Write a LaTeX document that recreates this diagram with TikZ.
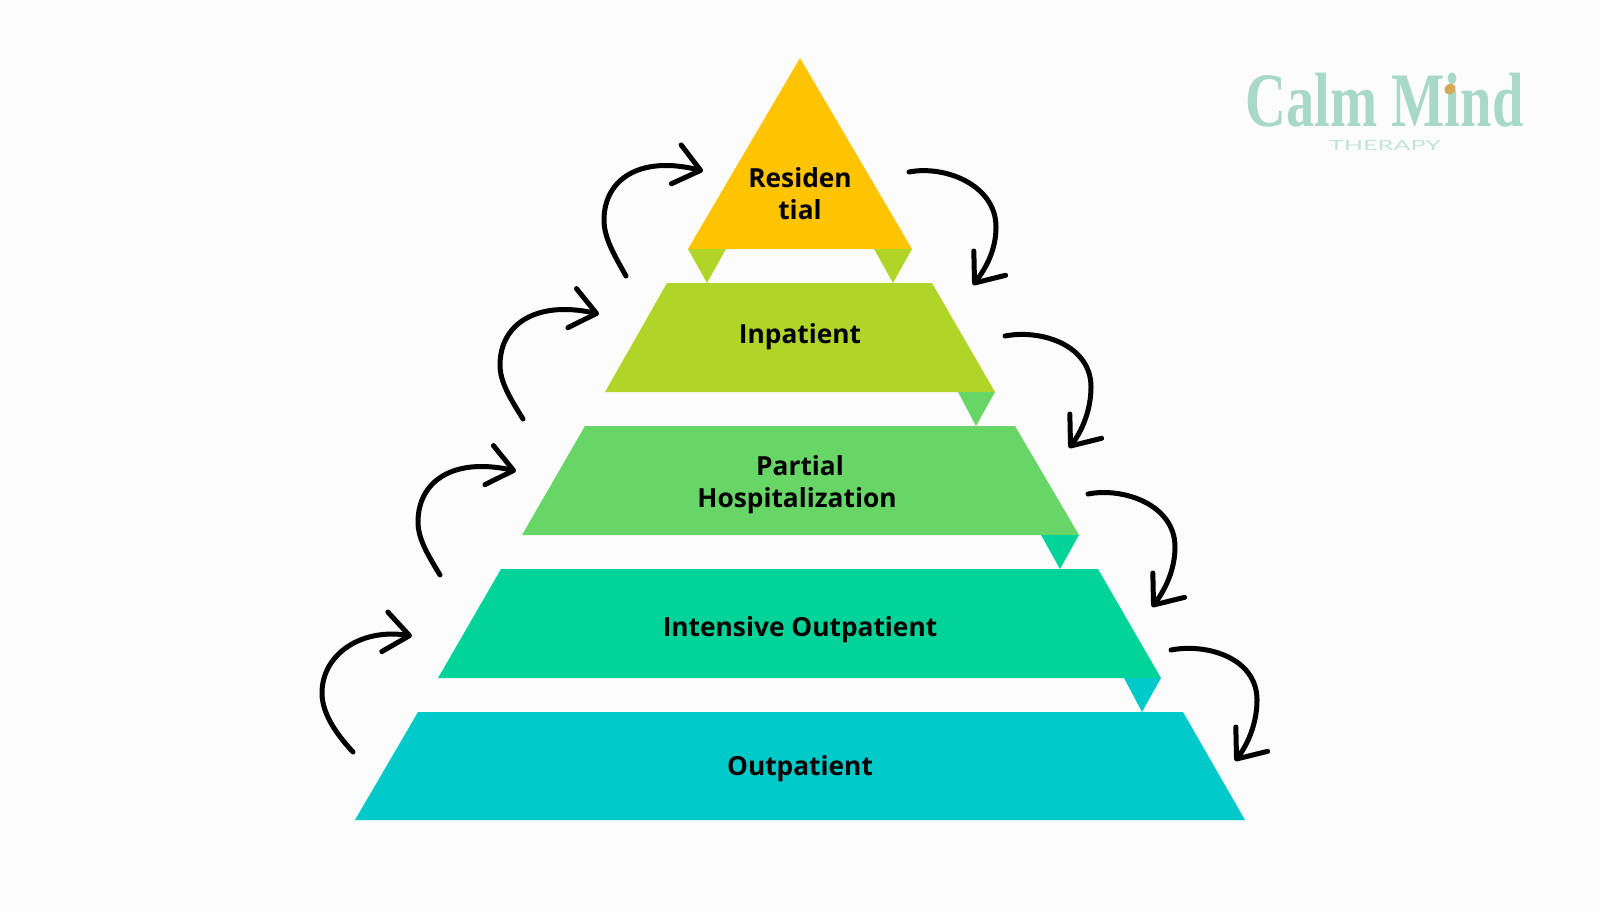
\documentclass[tikz,border=0pt]{standalone}
\usepackage{fontspec}
\usepackage{tikz}
\usetikzlibrary{arrows.meta}
\setmainfont{Open Sans}
\newfontfamily\logofont{Liberation Serif}
\newfontfamily\subfont{Lato}
\definecolor{resi}{HTML}{FFC400}
\definecolor{inpa}{HTML}{B1D429}
\definecolor{part}{HTML}{68D666}
\definecolor{inte}{HTML}{01D399}
\definecolor{outp}{HTML}{00C9C9}
\definecolor{logo}{HTML}{A8D9C8}

\begin{document}
\begin{tikzpicture}[x=1pt,y=-1pt,
		tier/.style={inner sep=0pt,align=center,text=black,font=\fontsize{26.3}{32}\selectfont\bfseries},
		curvearrow/.style={line width=5pt,line cap=round,line join=round,-{Straight Barb[length=25pt,width=40pt,round]}}]
		
		\fill[white!99!black] (0,0) rectangle (1600,912);
		\useasboundingbox (0,0) rectangle (1600,912);
		
		% pyramid
		\fill[resi] (800,58) -- (912,249) -- (688,249) -- cycle;
		\fill[inpa] (667,283) -- (932,283) -- (995,392) -- (605,392) -- cycle;
		\fill[part] (585,426) -- (1015,426) -- (1079,535) -- (522,535) -- cycle;
		\fill[inte] (501,569) -- (1098,569) -- (1161,678) -- (438,678) -- cycle;
		\fill[outp] (418,712) -- (1183,712) -- (1245,820) -- (355,820) -- cycle;
		
		\node[tier](residential) at (800,194){Residen\\tial};
		\node[tier,anchor=base](inpatient) at (800,343){Inpatient};
		\node[tier](partial) at (800,485){Partial\\Hospitalization\kern6pt};
		\node[tier,anchor=base](intensive) at (800,636){Intensive Outpatient};
		\node[tier,anchor=base](outpatient) at (800,775){Outpatient};
		
		% small triangles
		\fill[inpa] (688,249) -- (726,249) -- (707,283) -- cycle;
		\fill[inpa] (874,249) -- (912,249) -- (893,283) -- cycle;
		\fill[part] (958,392) -- (995,392) -- (976,426) -- cycle;
		\fill[inte] (1041,535) -- (1079,535) -- (1060,569) -- cycle;
		\fill[outp] (1124,678) -- (1161,678) -- (1142,712) -- cycle;
		
		% ends of the curves
		\coordinate (upa) at (353,752);  \coordinate (upb) at (412,636);
		\coordinate (upc) at (440,575);  \coordinate (upd) at (516,471);
		\coordinate (upe) at (523,419);  \coordinate (upf) at (599,314);
		\coordinate (upg) at (626,276);  \coordinate (uph) at (703,171);
		\coordinate (downa) at (909,172);  \coordinate (downb) at (973,285);
		\coordinate (downc) at (1005,336); \coordinate (downd) at (1069,448);
		\coordinate (downe) at (1088,494); \coordinate (downf) at (1152,607);
		\coordinate (downg) at (1171,650); \coordinate (downh) at (1235,761);
		
		\draw[curvearrow] (upa) .. controls (340,738) and (322,716) .. (322,693) .. controls (322,655) and (360,628) .. (upb);
		\draw[curvearrow] (upc) .. controls (428,555) and (418,539) .. (418,522) .. controls (418,482) and (452,457) .. (upd);
		\draw[curvearrow] (upe) .. controls (510,398) and (500,382) .. (500,365) .. controls (500,325) and (535,300) .. (upf);
		\draw[curvearrow] (upg) .. controls (613,253) and (604,237) .. (604,220) .. controls (604,180) and (639,155) .. (uph);
		
		\draw[curvearrow] (downa) .. controls (945,165) and (996,185) .. (996,227) .. controls (996,250) and (986,268) .. (downb);
		\draw[curvearrow] (downc) .. controls (1041,329) and (1091,345) .. (1091,387) .. controls (1091,410) and (1082,431) .. (downd);
		\draw[curvearrow] (downe) .. controls (1124,487) and (1175,505) .. (1175,547) .. controls (1175,570) and (1165,590) .. (downf);
		\draw[curvearrow] (downg) .. controls (1207,643) and (1257,658) .. (1257,700) .. controls (1257,723) and (1248,744) .. (downh);
		
		% logo
		\node[text=logo,inner sep=0pt,anchor=base,font=\logofont\fontsize{77}{77}\selectfont\bfseries](calm) at (1384.5,127){\scalebox{0.735}[1]{Calm Mind}};
		\fill[rotate around={30:(1450,89)},orange!55!logo] (1450,89) ellipse (6pt and 5pt);
		\node[text=logo!70!white,inner sep=0pt,anchor=base,font=\subfont\fontsize{14}{14}\selectfont](therapy) at (1385,151){\scalebox{1.8}[1]{THERAPY}};
		
	\end{tikzpicture}
\end{document}
